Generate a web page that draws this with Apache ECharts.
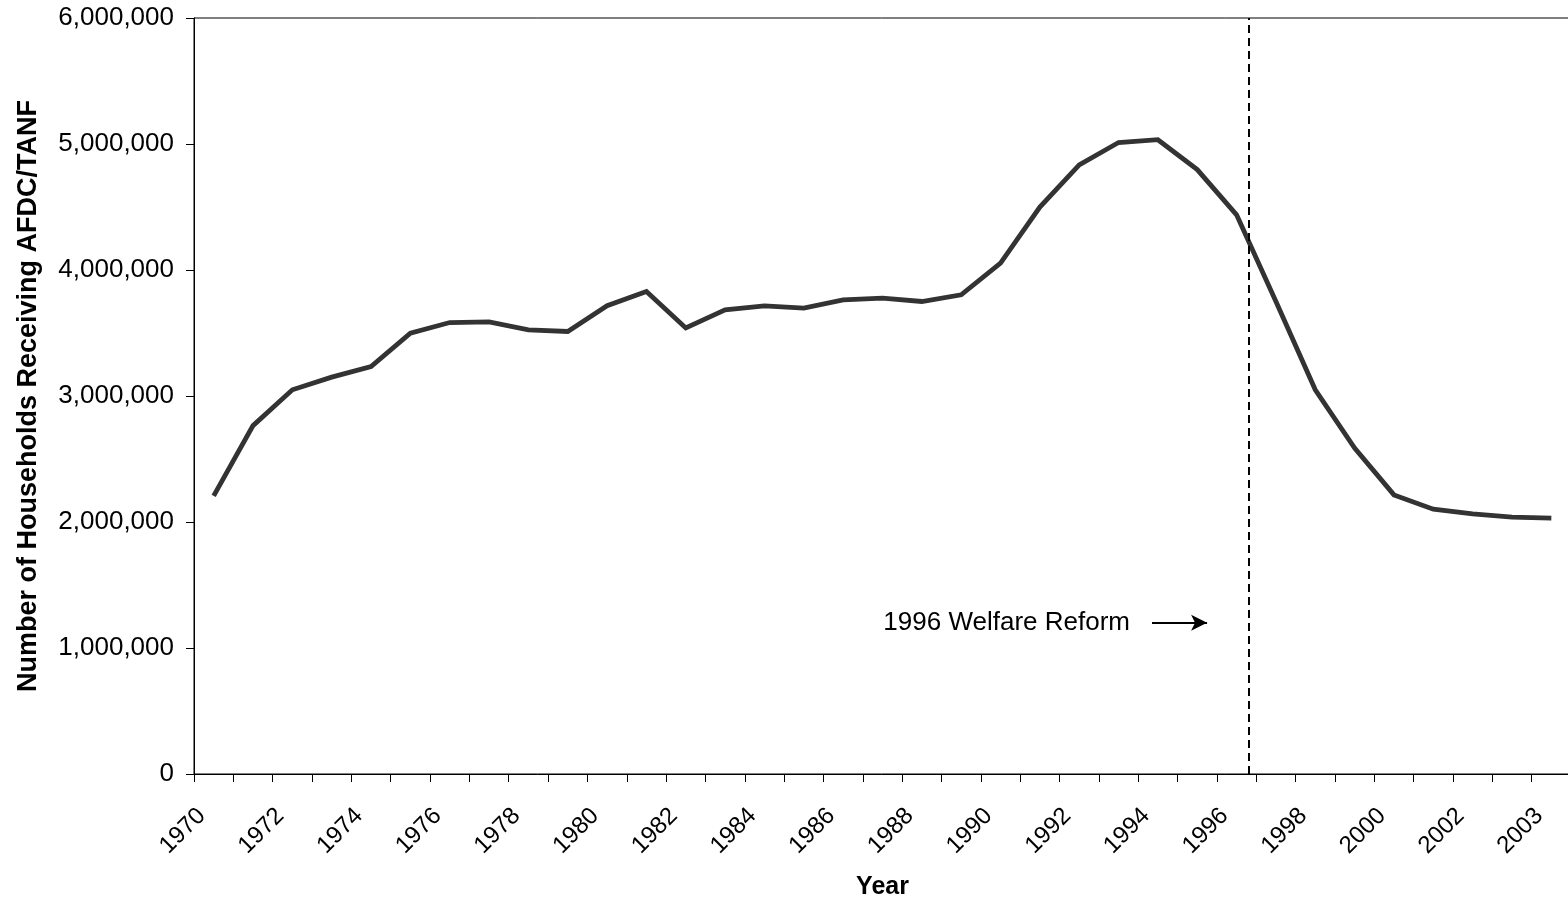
<!DOCTYPE html>
<html>
<head>
<meta charset="utf-8">
<style>
  html, body { margin: 0; padding: 0; background: #fff; }
  #chart { width: 1568px; height: 907px; }
</style>
<script src="https://cdn.jsdelivr.net/npm/echarts@6/dist/echarts.min.js"></script>
</head>
<body>
<div id="chart"></div>
<script>
// Year labels along the horizontal axis (the last year has two observations)
const years = [
  '1970', '1971', '1972', '1973', '1974', '1975', '1976', '1977', '1978', '1979',
  '1980', '1981', '1982', '1983', '1984', '1985', '1986', '1987', '1988', '1989',
  '1990', '1991', '1992', '1993', '1994', '1995', '1996', '1997', '1998', '1999',
  '2000', '2001', '2002', '2003', '2003'
];

// Households receiving AFDC/TANF
const households = [
  2207000, 2765000, 3049000, 3150000, 3234000, 3499000, 3583000, 3589000, 3525000, 3512000,
  3716000, 3829000, 3540000, 3684000, 3716000, 3698000, 3763000, 3777000, 3750000, 3803000,
  4055000, 4499000, 4835000, 5012000, 5034000, 4797000, 4438000, 3750000, 3049000, 2586000,
  2215000, 2102000, 2064000, 2038000, 2030000
];

// Vertical axis ticks
const yTicks = [0, 1000000, 2000000, 3000000, 4000000, 5000000, 6000000];

// Reform marker: position on a continuous year scale, and the arrow that points to it
const reformYear = [1996.8];
const arrowYears = [1994.35, 1995.75];
const arrowLevel = [1200000];
const reformLabel = ['1996 Welfare Reform'];

const font = 'Liberation Sans, Arial, sans-serif';
const chart = echarts.init(document.getElementById('chart'));

chart.setOption({
  animation: false,
  backgroundColor: '#ffffff',
  grid: {
    left: 194, top: 18, width: 1377, height: 756,
    containLabel: false,
    outerBoundsMode: 'none',
    show: true, borderColor: '#000', borderWidth: 1, backgroundColor: 'transparent'
  },
  xAxis: [
    {
      type: 'category',
      data: years,
      boundaryGap: true,
      name: 'Year',
      nameLocation: 'middle',
      nameGap: 101,
      nameMoveOverlap: false,
      nameTextStyle: { fontFamily: font, fontSize: 25, fontWeight: 'bold', color: '#000' },
      axisLine: { lineStyle: { color: '#000', width: 1 } },
      axisTick: { show: true, interval: 0, length: 8, lineStyle: { color: '#000' } },
      axisLabel: {
        interval: (i) => i % 2 === 0,
        rotate: 45,
        margin: 26,
        padding: [0, 17, 0, 0],
        fontFamily: font, fontSize: 24, color: '#000'
      },
      splitLine: { show: false }
    },
    {
      type: 'value',
      min: 1970,
      max: 2005,
      show: false
    }
  ],
  yAxis: {
    type: 'value',
    min: yTicks[0],
    max: yTicks[yTicks.length - 1],
    interval: yTicks[1] - yTicks[0],
    name: 'Number of Households Receiving AFDC/TANF',
    nameLocation: 'middle',
    nameGap: 152,
    nameMoveOverlap: false,
    nameTextStyle: { fontFamily: font, fontSize: 27, fontWeight: 'bold', color: '#000' },
    axisLine: { show: true, lineStyle: { color: '#000', width: 1 } },
    axisTick: { show: true, length: 8, lineStyle: { color: '#000' } },
    axisLabel: {
      margin: 20,
      fontFamily: font, fontSize: 26, color: '#000',
      formatter: (v) => v.toLocaleString('en-US')
    },
    splitLine: { show: false }
  },
  series: [
    {
      type: 'line',
      xAxisIndex: 0,
      data: households,
      symbol: 'none',
      lineStyle: { color: '#333333', width: 4.8, join: 'miter' },
      z: 3
    },
    {
      type: 'line',
      xAxisIndex: 1,
      data: [],
      symbol: 'none',
      silent: true,
      markLine: {
        silent: true,
        animation: false,
        symbol: ['none', 'none'],
        data: [
          {
            xAxis: reformYear[0],
            lineStyle: { color: '#000', width: 2, type: [8, 5] },
            label: { show: false }
          },
          [
            {
              coord: [arrowYears[0], arrowLevel[0]],
              symbol: 'none',
              lineStyle: { color: '#000', width: 2, type: 'solid' },
              label: {
                show: true,
                position: 'start',
                distance: 22,
                formatter: reformLabel[0],
                fontFamily: font, fontSize: 26, color: '#000'
              }
            },
            {
              coord: [arrowYears[1], arrowLevel[0]],
              symbol: 'arrow',
              symbolSize: [12, 16]
            }
          ]
        ]
      }
    }
  ]
});
</script>
</body>
</html>
